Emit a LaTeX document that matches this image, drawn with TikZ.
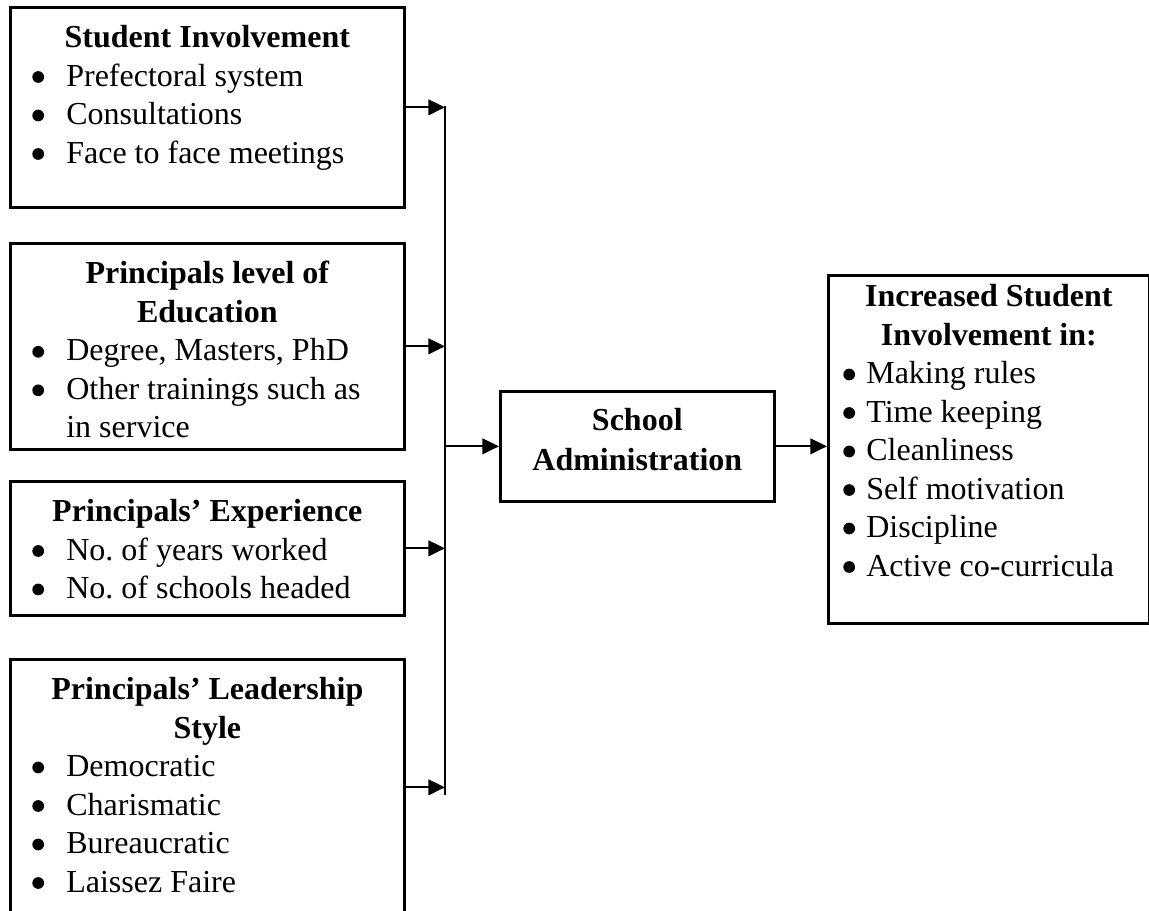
\documentclass[tikz,border=0pt]{standalone}
\usepackage{fontspec}
\setmainfont{Liberation Serif}
\usetikzlibrary{arrows.meta}
% one reference pixel
\newlength{\pxu}\setlength{\pxu}{0.375pt}
\newlength{\bulind}\setlength{\bulind}{22\pxu}
\newlength{\txtind}\setlength{\txtind}{56\pxu}
\newcommand{\bdot}{\tikz[x=1cm, y=1cm, baseline=-3.4pt]\fill (0,0) circle (2.2pt);}
\newcommand{\bitem}[1]{\par\hangindent=\txtind\hangafter=1\noindent
  \makebox[\txtind][l]{\hspace*{\bulind}\bdot}#1}
\newcommand{\boxbody}[4]{\parbox[c][#2][t]{#1}{\fontsize{12}{14.44}\selectfont
  \raggedright\vspace*{#3}#4}}
\begin{document}
\begin{tikzpicture}[x=0.375pt, y=-0.375pt, font=\fontsize{12}{14.44}\selectfont,
  blk/.style={draw, line width=1pt, inner sep=0pt, anchor=north west},
  arr/.style={line width=0.85pt, -{Triangle[length=6.2pt, width=5.8pt]}}]
\useasboundingbox (0,0) rectangle (1149,911);

% factors
\node[blk] (inv) at (9,6) {\boxbody{394\pxu}{200\pxu}{18\pxu}{%
  {\centering\bfseries Student Involvement\par}
  \bitem{Prefectoral system}
  \bitem{Consultations}
  \bitem{Face to face meetings}}};
\node[blk] (edu) at (9,242) {\boxbody{394\pxu}{206\pxu}{18\pxu}{%
  {\centering\bfseries Principals level of\\ Education\par}
  \bitem{Degree, Masters, PhD}
  \bitem{Other trainings such as\newline in service}}};
\node[blk] (exp) at (9,480) {\boxbody{394\pxu}{134\pxu}{18\pxu}{%
  {\centering\bfseries Principals’ Experience\par}
  \bitem{No.\ of years worked}
  \bitem{No.\ of schools headed}}};
\node[blk] (lead) at (9,658) {\boxbody{394\pxu}{256\pxu}{18\pxu}{%
  {\centering\bfseries Principals’ Leadership\\ Style\par}
  \bitem{Democratic}
  \bitem{Charismatic}
  \bitem{Bureaucratic}
  \bitem{Laissez Faire}}};

% middle and outcome
\node[blk] (adm) at (499,390) {\boxbody{274\pxu}{110\pxu}{17\pxu}{%
  \fontsize{12}{15}\selectfont\centering\bfseries School\\ Administration}};
\node[blk] (out) at (827,274) {\setlength{\bulind}{15\pxu}\setlength{\txtind}{38\pxu}%
  \boxbody{321\pxu}{348\pxu}{9\pxu}{%
  {\centering\bfseries Increased Student\\ Involvement in:\par}
  \bitem{Making rules}
  \bitem{Time keeping}
  \bitem{Cleanliness}
  \bitem{Self motivation}
  \bitem{Discipline}
  \bitem{Active co-curricula}}};

% connectors
\coordinate (bustop) at (445,106);
\coordinate (busbot) at (445,795);
\draw[line width=0.85pt] (bustop) -- (busbot);
\foreach \b in {inv,edu,exp,lead}
  \draw[arr] (\b.east) -- (\b.east -| bustop);
\draw[arr] (adm.west -| bustop) -- (adm.west);
\draw[arr] (adm.east) -- (adm.east -| out.west);
\end{tikzpicture}
\end{document}
